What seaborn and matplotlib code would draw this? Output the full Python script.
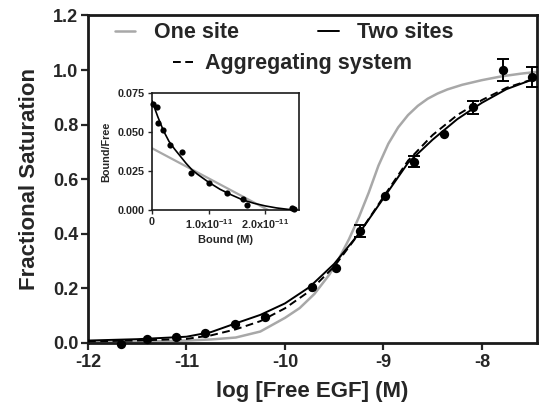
import numpy as np
import pandas as pd
import matplotlib
matplotlib.use("Agg")
import matplotlib.pyplot as plt
import seaborn as sns

# ---------------- data ----------------
# main panel: measured points
log_free = [-11.66, -11.40, -11.11, -10.81, -10.51, -10.20, -9.73, -9.48,
            -9.24, -8.98, -8.69, -8.38, -8.09, -7.79, -7.495]
frac_sat = [-0.003, 0.015, 0.023, 0.035, 0.068, 0.097, 0.205, 0.273,
            0.41, 0.54, 0.664, 0.766, 0.864, 1.0, 0.974]
frac_err = [0, 0, 0, 0, 0, 0, 0, 0, 0.023, 0, 0.02, 0, 0.024, 0.039, 0.037]

# fitted curves
one_x = [-12, -11.5, -11, -10.75, -10.5, -10.25, -10.0, -9.85, -9.7, -9.55,
         -9.45, -9.35, -9.25, -9.15, -9.05, -8.95, -8.85, -8.75, -8.65,
         -8.55, -8.45, -8.35, -8.2, -8.0, -7.8, -7.6, -7.45]
one_y = [0.003, 0.005, 0.009, 0.013, 0.02, 0.042, 0.092, 0.128, 0.18, 0.25,
         0.31, 0.38, 0.46, 0.55, 0.65, 0.73, 0.79, 0.835, 0.869,
         0.895, 0.914, 0.929, 0.946, 0.963, 0.977, 0.987, 0.993]

two_x = [-12, -11.5, -11, -10.75, -10.5, -10.25, -10, -9.75, -9.5, -9.25,
         -9.0, -8.75, -8.5, -8.25, -8.0, -7.75, -7.45]
two_y = [0.009, 0.014, 0.023, 0.040, 0.072, 0.103, 0.145, 0.205, 0.29, 0.40,
         0.53, 0.66, 0.745, 0.82, 0.88, 0.93, 0.97]

agg_x = [-12, -11.5, -11, -10.75, -10.5, -10.25, -10, -9.75, -9.5, -9.25,
         -9.0, -8.75, -8.5, -8.25, -8.0, -7.75, -7.45]
agg_y = [0.006, 0.009, 0.015, 0.028, 0.05, 0.08, 0.127, 0.19, 0.28, 0.40,
         0.535, 0.668, 0.762, 0.835, 0.89, 0.935, 0.97]

# inset (Scatchard plot)
bound = [0.02e-11, 0.08e-11, 0.11e-11, 0.20e-11, 0.31e-11, 0.53e-11, 0.68e-11,
         1.0e-11, 1.32e-11, 1.60e-11, 1.67e-11, 2.47e-11, 2.50e-11]
bound_free = [0.068, 0.066, 0.0557, 0.0514, 0.0418, 0.0369, 0.024,
              0.0176, 0.0107, 0.0071, 0.0032, 0.001, 0.0005]

ins_one_x = [0.0, 2.05e-11]
ins_one_y = [0.0396, 0.0]

ins_two_x = [0, 0.05e-11, 0.1e-11, 0.2e-11, 0.3e-11, 0.4e-11, 0.5e-11, 0.6e-11,
             0.7e-11, 0.8e-11, 1.0e-11, 1.2e-11, 1.4e-11, 1.6e-11, 1.8e-11,
             2.0e-11, 2.2e-11, 2.4e-11, 2.55e-11]
ins_two_y = [0.070, 0.065, 0.060, 0.051, 0.044, 0.039, 0.0345, 0.030, 0.026,
             0.023, 0.0178, 0.0133, 0.0097, 0.0065, 0.0043, 0.0026, 0.0013,
             0.0004, 0.0]

x_ticks = [-12, -11, -10, -9, -8]
y_ticks = [0.0, 0.2, 0.4, 0.6, 0.8, 1.0, 1.2]
ins_xticks = [0, 1e-11, 2e-11]
ins_xlabels = ["0", r"1.0x10$^{\mathbf{-11}}$", r"2.0x10$^{\mathbf{-11}}$"]
ins_yticks = [0.0, 0.025, 0.05, 0.075]
ins_ylabels = ["0.000", "0.025", "0.050", "0.075"]

# ---------------- style ----------------
sns.set_style("ticks")
plt.rcParams["font.family"] = ["Liberation Sans", "DejaVu Sans"]
plt.rcParams["font.weight"] = "bold"
plt.rcParams["axes.unicode_minus"] = False
plt.rcParams["mathtext.fontset"] = "custom"
plt.rcParams["mathtext.rm"] = "Liberation Sans:bold"
plt.rcParams["mathtext.bf"] = "Liberation Sans:bold"
plt.rcParams["mathtext.it"] = "Liberation Sans:bold"

GRAY = "#a8a8a8"

fig = plt.figure(figsize=(5.41, 4.03), dpi=100)
ax = fig.add_axes([0.1627, 0.1489, 0.8299, 0.8127])

sns.lineplot(x=one_x, y=one_y, ax=ax, color=GRAY, lw=1.8, label="One site",
             legend=False, zorder=2)
sns.lineplot(x=two_x, y=two_y, ax=ax, color="black", lw=1.4, label="Two sites",
             legend=False, zorder=3)
sns.lineplot(x=agg_x, y=agg_y, ax=ax, color="black", lw=1.4,
             label="Aggregating system", legend=False, zorder=3)
l_one, l_two, l_agg = ax.lines[0], ax.lines[1], ax.lines[2]
l_agg.set_linestyle((0, (4, 2.3)))

pts = pd.DataFrame({"x": log_free, "y": frac_sat, "e": frac_err})
sns.scatterplot(data=pts, x="x", y="y", ax=ax, color="black", s=45,
                linewidth=0, zorder=5, clip_on=False)
pe = pts[pts["e"] > 0]
ax.errorbar(pe["x"], pe["y"], yerr=pe["e"], fmt="none", ecolor="black",
            elinewidth=1.4, capsize=4, capthick=1.4, zorder=4)

ax.set_xlim(-12, -7.44)
ax.set_ylim(0, 1.2)
ax.set_xticks(x_ticks)
ax.set_xticklabels([str(t) for t in x_ticks])
ax.set_yticks(y_ticks)
ax.set_yticklabels([f"{t:.1f}" for t in y_ticks])
ax.tick_params(axis="x", labelsize=13, width=1.6, length=5, pad=3)
ax.tick_params(axis="y", labelsize=13, width=1.6, length=5, pad=2)
for lab in ax.get_xticklabels() + ax.get_yticklabels():
    lab.set_fontweight("bold")
for sp in ax.spines.values():
    sp.set_visible(True)
    sp.set_linewidth(2.0)
    sp.set_color("#1a1a1a")
ax.set_xlabel("log [Free EGF] (M)", fontsize=16, fontweight="bold", labelpad=7)
ax.set_ylabel("Fractional Saturation", fontsize=16, fontweight="bold",
              labelpad=9)

leg1 = ax.legend([l_one, l_two], ["One site", "Two sites"], ncol=2,
                 loc="center left", bbox_to_anchor=(0.06, 0.947),
                 frameon=False, prop={"size": 15.5, "weight": "bold"},
                 handlelength=0.95, handletextpad=0.85, columnspacing=3.7,
                 borderpad=0, borderaxespad=0)
ax.add_artist(leg1)
ax.legend([l_agg], ["Aggregating system"], loc="center left",
          bbox_to_anchor=(0.189, 0.852), frameon=False,
          prop={"size": 15.5, "weight": "bold"}, handlelength=0.95,
          handletextpad=0.55, borderpad=0, borderaxespad=0)

# ---------------- inset ----------------
axin = fig.add_axes([0.281, 0.479, 0.272, 0.290])
sns.lineplot(x=ins_one_x, y=ins_one_y, ax=axin, color=GRAY, lw=1.6, zorder=2)
sns.lineplot(x=ins_two_x, y=ins_two_y, ax=axin, color="black", lw=1.2,
             zorder=3)
sns.scatterplot(x=bound, y=bound_free, ax=axin, color="black", s=20,
                linewidth=0, zorder=5, clip_on=False)
axin.set_xlim(0, 2.6e-11)
axin.set_ylim(0, 0.075)
axin.set_xticks(ins_xticks)
axin.set_xticklabels(ins_xlabels)
axin.set_yticks(ins_yticks)
axin.set_yticklabels(ins_ylabels)
axin.tick_params(labelsize=7.8, width=1.0, length=3, pad=2)
for lab in axin.get_xticklabels() + axin.get_yticklabels():
    lab.set_fontweight("bold")
for sp in axin.spines.values():
    sp.set_visible(True)
    sp.set_linewidth(1.2)
    sp.set_color("#1a1a1a")
axin.set_xlabel("Bound (M)", fontsize=8, fontweight="bold", labelpad=3)
axin.set_ylabel("Bound/Free", fontsize=7.8, fontweight="bold", labelpad=5)

fig.savefig("out.png", dpi=100)
